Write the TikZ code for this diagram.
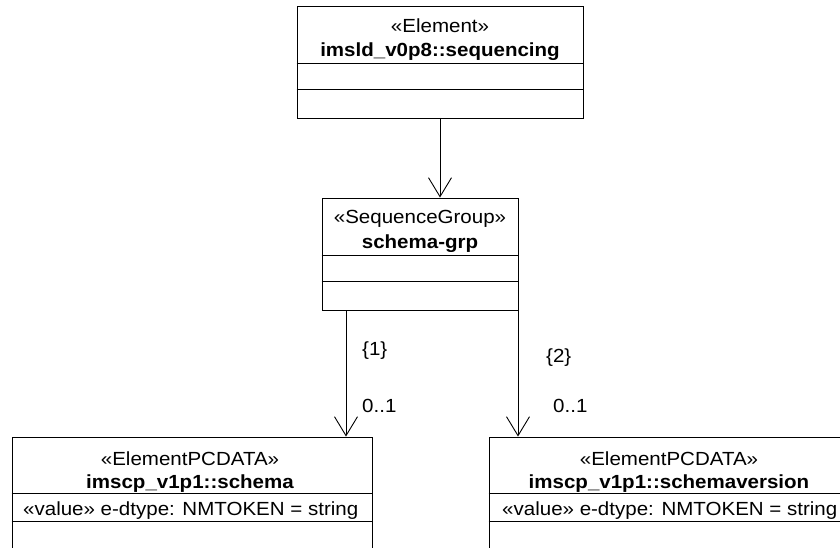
\documentclass[tikz,border=0pt]{standalone}
\usepackage{fontspec}
\setmainfont{Liberation Sans}[FakeStretch=1.08]
\usetikzlibrary{arrows.meta}
\tikzset{
  umlbox/.style={draw=black, line width=0.9pt, rectangle, inner sep=0pt},
  divider/.style={draw=black, line width=0.9pt},
  txt/.style={inner sep=0pt, font=\fontsize{19}{23}\selectfont},
  btxt/.style={inner sep=0pt, font=\fontsize{19}{23}\selectfont\bfseries},
  assoc/.style={draw=black, line width=0.9pt, -{Straight Barb[length=19pt,width=23pt,line width=0.9pt]}},
}
\begin{document}
\begin{tikzpicture}[x=1pt,y=-1pt]
\useasboundingbox (0,0) rectangle (840,548);
\clip (0,0) rectangle (840,548);
% boxes
\node[umlbox, minimum width=286pt, minimum height=112pt] (top) at (440,62) {};
\node[umlbox, minimum width=196pt, minimum height=112pt] (mid) at (420,254) {};
\node[umlbox, minimum width=360pt, minimum height=143pt] (lbox) at (192,508.5) {};
\node[umlbox, minimum width=360pt, minimum height=143pt] (rbox) at (669,508.5) {};
% dividers
\draw[divider] (top.west |- 0,63) -- (top.east |- 0,63);
\draw[divider] (top.west |- 0,89) -- (top.east |- 0,89);
\draw[divider] (mid.west |- 0,255) -- (mid.east |- 0,255);
\draw[divider] (mid.west |- 0,281) -- (mid.east |- 0,281);
\draw[divider] (lbox.west |- 0,493) -- (lbox.east |- 0,493);
\draw[divider] (lbox.west |- 0,521) -- (lbox.east |- 0,521);
\draw[divider] (rbox.west |- 0,493) -- (rbox.east |- 0,493);
\draw[divider] (rbox.west |- 0,521) -- (rbox.east |- 0,521);
% texts
\node[txt, anchor=base] (topst) at (440,33) {«Element»};
\node[btxt, anchor=base] (topnm) at (440,57) {imsld\_v0p8::sequencing};
\node[txt, anchor=base] (midst) at (420,223) {«SequenceGroup»};
\node[btxt, anchor=base] (midnm) at (420,248) {schema-grp};
\node[txt, anchor=base] (lst) at (190,465) {«ElementPCDATA»};
\node[btxt, anchor=base] (lnm) at (190,488) {imscp\_v1p1::schema};
\node[txt, anchor=base west] (lat) at (23,515) {«value» e-dtype: NMTOKEN = string};
\node[txt, anchor=base] (rst) at (669,465) {«ElementPCDATA»};
\node[btxt, anchor=base] (rnm) at (669,488) {imscp\_v1p1::schemaversion};
\node[txt, anchor=base west] (rat) at (502,515) {«value» e-dtype: NMTOKEN = string};
% connectors
\coordinate (c0) at (440,118);
\coordinate (c1) at (346,310);
\coordinate (c2) at (518,310);
\draw[assoc] (c0) -- (c0 |- mid.north);
\draw[assoc] (c1) -- (c1 |- lbox.north);
\draw[assoc] (c2) -- (c2 |- rbox.north);
% labels
\node[txt, anchor=base west] (l1) at (362,355) {\{1\}};
\node[txt, anchor=base west] (m1) at (362,412) {0..1};
\node[txt, anchor=base west] (l2) at (546,362) {\{2\}};
\node[txt, anchor=base west] (m2) at (553,412) {0..1};
\end{tikzpicture}
\end{document}
